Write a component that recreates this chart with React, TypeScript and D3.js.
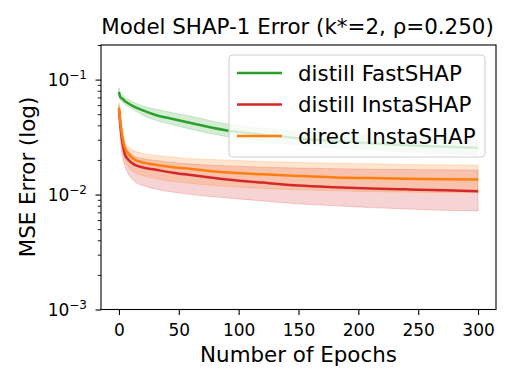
import { useEffect, useRef } from "react";
import * as d3 from "d3";

// epochs sampled from the curves
const epochs = [0, 1, 2, 3, 5, 8, 13, 20, 30, 45, 60, 88, 120, 150, 180, 210, 240, 270, 300];

const fastMean = [0.078, 0.071, 0.069, 0.068, 0.065, 0.062, 0.058, 0.054, 0.0495, 0.0455, 0.042, 0.0365, 0.0332, 0.0309, 0.0292, 0.0279, 0.0269, 0.0261, 0.0255];
const fastLow = [0.072, 0.067, 0.065, 0.064, 0.061, 0.058, 0.054, 0.049, 0.0445, 0.0405, 0.037, 0.0322, 0.0292, 0.027, 0.0255, 0.0243, 0.0234, 0.0227, 0.0221];
const fastHigh = [0.085, 0.076, 0.074, 0.073, 0.070, 0.067, 0.063, 0.059, 0.0555, 0.0515, 0.048, 0.0415, 0.0378, 0.0355, 0.0338, 0.0325, 0.0314, 0.0306, 0.03];

const distInstaMean = [0.055, 0.042, 0.033, 0.028, 0.0223, 0.02, 0.0182, 0.0172, 0.0165, 0.0155, 0.0148, 0.0136, 0.0127, 0.012, 0.0116, 0.0113, 0.0111, 0.0109, 0.0107];
const distInstaLow = [0.048, 0.033, 0.025, 0.021, 0.0176, 0.015, 0.013, 0.012, 0.0112, 0.0105, 0.01, 0.0094, 0.0088, 0.0083, 0.008, 0.0077, 0.0075, 0.0073, 0.0072];
const distInstaHigh = [0.06, 0.048, 0.04, 0.034, 0.027, 0.024, 0.0215, 0.0205, 0.0198, 0.019, 0.0184, 0.0178, 0.0173, 0.017, 0.0168, 0.0166, 0.0165, 0.0164, 0.0163];

const directMean = [0.057, 0.045, 0.036, 0.031, 0.0255, 0.0225, 0.0202, 0.019, 0.0182, 0.0173, 0.0167, 0.0156, 0.015, 0.0145, 0.0141, 0.0139, 0.0137, 0.0136, 0.0135];
const directLow = [0.05, 0.037, 0.029, 0.025, 0.02, 0.0175, 0.0156, 0.0146, 0.0138, 0.013, 0.0125, 0.0118, 0.0113, 0.011, 0.0108, 0.0106, 0.0105, 0.0104, 0.0104];
const directHigh = [0.063, 0.053, 0.044, 0.038, 0.029, 0.026, 0.024, 0.0228, 0.022, 0.0212, 0.0205, 0.02, 0.0194, 0.019, 0.0187, 0.0185, 0.0183, 0.0182, 0.018];

const seriesNames = ["distill FastSHAP", "distill InstaSHAP", "direct InstaSHAP"];
const seriesColors = ["#2ca02c", "#d62728", "#ff7f0e"];

const xTicks = [0, 50, 100, 150, 200, 250, 300];
const yTickExps = [-1, -2, -3];

const FONT = "DejaVu Sans, sans-serif";

export default function App() {
  const ref = useRef<SVGSVGElement>(null);

  useEffect(() => {
    const el = ref.current;
    if (!el) return;
    const svg = d3.select(el);
    svg.selectAll("*").remove();

    const left = 101, right = 496, top = 45, bottom = 309.5;

    const x = d3.scaleLinear().domain([-15, 315]).range([left, right]);
    const y = d3.scaleLog().domain([1e-3, 0.2]).range([bottom, top]);

    const series = [
      { mean: fastMean, low: fastLow, high: fastHigh },
      { mean: distInstaMean, low: distInstaLow, high: distInstaHigh },
      { mean: directMean, low: directLow, high: directHigh },
    ];

    svg
      .append("clipPath")
      .attr("id", "plot-clip")
      .append("rect")
      .attr("x", left)
      .attr("y", top)
      .attr("width", right - left)
      .attr("height", bottom - top);

    const plot = svg.append("g").attr("clip-path", "url(#plot-clip)");

    const line = d3
      .line<number>()
      .x((_, i) => x(epochs[i]))
      .y((d) => y(d))
      .curve(d3.curveMonotoneX);

    // shaded bands first, then mean lines on top
    series.forEach((s, k) => {
      const band = d3
        .area<number>()
        .x((_, i) => x(epochs[i]))
        .y0((_, i) => y(s.low[i]))
        .y1((_, i) => y(s.high[i]))
        .curve(d3.curveMonotoneX);
      plot
        .append("path")
        .attr("d", band(s.mean))
        .attr("fill", seriesColors[k])
        .attr("fill-opacity", 0.2)
        .attr("stroke", seriesColors[k])
        .attr("stroke-opacity", 0.2)
        .attr("stroke-width", 1);
    });

    series.forEach((s, k) => {
      plot
        .append("path")
        .attr("d", line(s.mean))
        .attr("fill", "none")
        .attr("stroke", seriesColors[k])
        .attr("stroke-width", 2.5);
    });

    // x axis
    const xAxis = svg
      .append("g")
      .attr("transform", `translate(0,${bottom})`)
      .call(d3.axisBottom(x).tickValues(xTicks).tickSize(5.5).tickFormat(d3.format("d")));
    xAxis.select(".domain").remove();
    xAxis.selectAll("line").attr("stroke", "#000").attr("stroke-width", 1.1);
    xAxis
      .selectAll("text")
      .attr("y", 26.5)
      .attr("dy", null)
      .attr("font-family", FONT)
      .attr("font-size", 17)
      .attr("fill", "#000");

    // y axis major + minor ticks
    const minor: number[] = [];
    [1e-3, 1e-2, 1e-1].forEach((b) => {
      for (let m = 2; m <= 9; m++) if (b * m <= 0.2) minor.push(b * m);
    });
    const yMajor = svg
      .append("g")
      .attr("transform", `translate(${left},0)`)
      .call(d3.axisLeft(y).tickValues(yTickExps.map((e) => Math.pow(10, e))).tickSize(5.5).tickFormat(() => ""));
    yMajor.select(".domain").remove();
    yMajor.selectAll("line").attr("stroke", "#000").attr("stroke-width", 1.1);

    const yMinor = svg
      .append("g")
      .attr("transform", `translate(${left},0)`)
      .call(d3.axisLeft(y).tickValues(minor).tickSize(3.2).tickFormat(() => ""));
    yMinor.select(".domain").remove();
    yMinor.selectAll("line").attr("stroke", "#000").attr("stroke-width", 0.9);

    yTickExps.forEach((e) => {
      const t = svg
        .append("text")
        .attr("x", 87)
        .attr("y", y(Math.pow(10, e)) + 6.7)
        .attr("text-anchor", "end")
        .attr("font-family", FONT)
        .attr("font-size", 17)
        .attr("fill", "#000");
      t.append("tspan").text("10");
      t.append("tspan").attr("font-size", 12).attr("dy", -7).text(`\u2212${-e}`);
    });

    // frame
    svg
      .append("rect")
      .attr("x", left)
      .attr("y", top)
      .attr("width", right - left)
      .attr("height", bottom - top)
      .attr("fill", "none")
      .attr("stroke", "#000")
      .attr("stroke-width", 1.1);

    // legend
    const lg = svg.append("g");
    lg.append("rect")
      .attr("x", 229)
      .attr("y", 55)
      .attr("width", 256)
      .attr("height", 102)
      .attr("rx", 4)
      .attr("fill", "#fff")
      .attr("fill-opacity", 0.8)
      .attr("stroke", "#d0d0d0")
      .attr("stroke-width", 1.1);
    const rows = d3.scalePoint<string>().domain(seriesNames).range([73, 136]);
    seriesNames.forEach((name, k) => {
      const yy = rows(name) as number;
      lg.append("line")
        .attr("x1", 237)
        .attr("x2", 282)
        .attr("y1", yy)
        .attr("y2", yy)
        .attr("stroke", seriesColors[k])
        .attr("stroke-width", 2.5);
      lg.append("text")
        .attr("x", 298)
        .attr("y", yy + 7.7)
        .attr("font-family", FONT)
        .attr("font-size", 21.4)
        .attr("fill", "#000")
        .text(name);
    });

    // title & labels
    svg
      .append("text")
      .attr("x", 297.5)
      .attr("y", 34)
      .attr("text-anchor", "middle")
      .attr("font-family", FONT)
      .attr("font-size", 21.4)
      .text("Model SHAP-1 Error (k*=2, \u03c1=0.250)");

    svg
      .append("text")
      .attr("x", 298.5)
      .attr("y", 362)
      .attr("text-anchor", "middle")
      .attr("font-family", FONT)
      .attr("font-size", 21.4)
      .text("Number of Epochs");

    svg
      .append("text")
      .attr("transform", `translate(35,177) rotate(-90)`)
      .attr("text-anchor", "middle")
      .attr("font-family", FONT)
      .attr("font-size", 21.4)
      .text("MSE Error (log)");
  }, []);

  return (
    <svg
      ref={ref}
      width={515}
      height={386}
      style={{ position: "absolute", left: 0, top: 0, background: "#fff" }}
    />
  );
}
